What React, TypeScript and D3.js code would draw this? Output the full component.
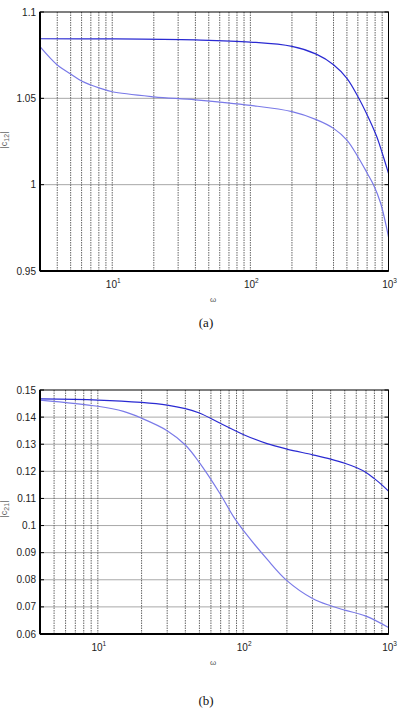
import React from "react";
import * as d3 from "d3";

// |c12| panel (a)
const omegaA1 = [3, 10, 40, 100, 200, 300, 400, 500, 600, 700, 820, 910, 1000];
const c12A = [1.0845, 1.0844, 1.0838, 1.0826, 1.0801, 1.0756, 1.0695, 1.0616, 1.0511, 1.0405, 1.028, 1.0172, 1.0065];
const omegaA2 = [3, 4, 5, 6, 7, 8.2, 10, 20, 40, 100, 200, 300, 400, 500, 600, 700, 780, 875, 1000];
const c12B = [1.0799, 1.0693, 1.0641, 1.06, 1.0577, 1.0558, 1.0538, 1.0509, 1.0491, 1.0459, 1.0423, 1.0377, 1.0326, 1.0258, 1.0162, 1.0068, 0.9998, 0.9895, 0.9698];
const yTicksA = [0.95, 1, 1.05, 1.1];
const yLabelsA = ["0.95", "1", "1.05", "1.1"];

// |c21| panel (b)
const omegaB1 = [4, 10, 20, 30, 40, 50, 69, 100, 146, 200, 300, 400, 500, 600, 700, 800, 900, 1000];
const c21A = [0.1467, 0.1463, 0.1454, 0.1444, 0.1431, 0.1415, 0.1378, 0.1336, 0.1302, 0.1282, 0.1261, 0.1245, 0.123, 0.1214, 0.1196, 0.1173, 0.115, 0.1127];
const omegaB2 = [4, 10, 15, 20, 30, 40, 50, 69, 86, 100, 146, 200, 300, 400, 500, 700, 1000];
const c21B = [0.1463, 0.144, 0.1421, 0.1396, 0.135, 0.1297, 0.1232, 0.1119, 0.1032, 0.0983, 0.0876, 0.0797, 0.0731, 0.0704, 0.0688, 0.0666, 0.0624];
const yTicksB = [0.06, 0.07, 0.08, 0.09, 0.1, 0.11, 0.12, 0.13, 0.14, 0.15];
const yLabelsB = ["0.06", "0.07", "0.08", "0.09", "0.1", "0.11", "0.12", "0.13", "0.14", "0.15"];

const decades = [1, 2, 3];

const DARK = "#2a2ad2";
const LIGHT = "#7a7ae8";
const SANS = "'Liberation Sans', Arial, sans-serif";

type Series = { x: number[]; y: number[]; color: string };

const Panel = (props: {
  top: number;
  bottom: number;
  xMin: number;
  yDomain: [number, number];
  yTicks: number[];
  yLabels: string[];
  series: Series[];
  sub: string;
  ylabelY: number;
  caption: string;
  captionY: number;
}) => {
  const { top, bottom, xMin, yDomain, yTicks, yLabels, series, sub, ylabelY, caption, captionY } = props;
  const left = 40;
  const right = 388.5;
  const x = d3.scaleLog().domain([xMin, 1000]).range([left, right]);
  const y = d3.scaleLinear().domain(yDomain).range([bottom, top]);

  // minor + major vertical grid
  const vgrid: number[] = [];
  for (let k = 0; k < 3; k++) {
    for (let m = 1; m <= 9; m++) {
      const v = m * Math.pow(10, k);
      if (v > xMin && v < 1000) vgrid.push(v);
    }
  }

  const line = d3
    .line<[number, number]>()
    .x((d) => x(d[0]))
    .y((d) => y(d[1]))
    .curve(d3.curveCatmullRom.alpha(0.5));

  return (
    <g>
      {yTicks.slice(1, -1).map((t) => (
        <line key={"h" + t} x1={left} x2={right} y1={y(t)} y2={y(t)} stroke="#a8a8a8" strokeWidth={1} />
      ))}
      {vgrid.map((v) => (
        <line key={"v" + v} x1={x(v)} x2={x(v)} y1={top} y2={bottom} stroke="#555" strokeWidth={0.9} strokeDasharray="1.5,1" />
      ))}
      {yTicks.map((t) => (
        <g key={"t" + t}>
          <line x1={left} x2={left + 4} y1={y(t)} y2={y(t)} stroke="#000" />
          <line x1={right - 4} x2={right} y1={y(t)} y2={y(t)} stroke="#000" />
        </g>
      ))}
      {series.map((s, i) => (
        <path
          key={i}
          d={line(s.x.map((v, j) => [v, s.y[j]] as [number, number])) || ""}
          fill="none"
          stroke={s.color}
          strokeWidth={1.2}
        />
      ))}
      <rect x={left} y={top} width={right - left} height={bottom - top} fill="none" stroke="#000" strokeWidth={1} />
      <line x1={left} x2={left} y1={top} y2={bottom} stroke="#000" strokeWidth={2} />
      <line x1={left} x2={right} y1={bottom} y2={bottom} stroke="#000" strokeWidth={2} />
      {yTicks.map((t, i) => (
        <text key={"yl" + t} x={36} y={y(t)} dy="0.35em" textAnchor="end" fontSize={10} fontFamily={SANS} fill="#222">
          {yLabels[i]}
        </text>
      ))}
      {decades.map((k) => (
        <text key={"xl" + k} x={x(Math.pow(10, k)) + 1} y={bottom + 17} textAnchor="middle" fontSize={10} fontFamily={SANS} fill="#222">
          10
          <tspan fontSize={6.5} dy={-5}>
            {k}
          </tspan>
        </text>
      ))}
      <text x={213} y={bottom + 31} textAnchor="middle" fontSize={8} fontFamily={SANS} fill="#555">
        ω
      </text>
      <text transform={`translate(7,${ylabelY}) rotate(-90)`} textAnchor="middle" fontSize={9} fontFamily={SANS} fill="#666">
        |c
        <tspan fontSize={7} dy={2}>
          {sub}
        </tspan>
        <tspan dy={-2}>|</tspan>
      </text>
      <text x={206} y={captionY} textAnchor="middle" fontSize={13} fontFamily="'Liberation Serif', 'Times New Roman', serif" fill="#111">
        {caption}
      </text>
    </g>
  );
};

export default function App() {
  return (
    <svg width={401} height={711} style={{ position: "absolute", left: 0, top: 0, background: "#fff" }}>
      <rect width={401} height={711} fill="#fff" />
      <Panel
        top={12}
        bottom={271}
        xMin={3}
        yDomain={[0.95, 1.1]}
        yTicks={yTicksA}
        yLabels={yLabelsA}
        series={[
          { x: omegaA1, y: c12A, color: DARK },
          { x: omegaA2, y: c12B, color: LIGHT },
        ]}
        sub="12"
        ylabelY={140}
        caption="(a)"
        captionY={327}
      />
      <Panel
        top={390}
        bottom={634}
        xMin={4}
        yDomain={[0.06, 0.15]}
        yTicks={yTicksB}
        yLabels={yLabelsB}
        series={[
          { x: omegaB1, y: c21A, color: DARK },
          { x: omegaB2, y: c21B, color: LIGHT },
        ]}
        sub="21"
        ylabelY={509}
        caption="(b)"
        captionY={705}
      />
    </svg>
  );
}
